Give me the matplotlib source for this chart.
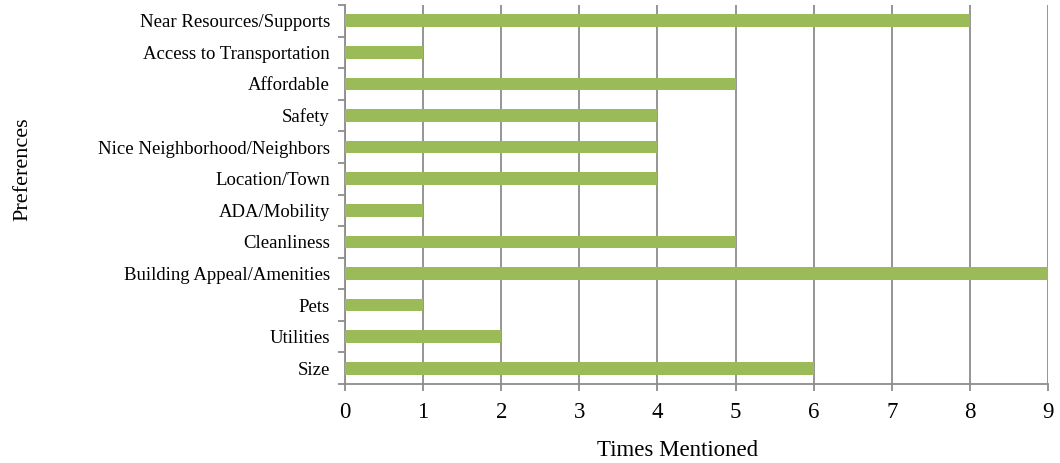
import matplotlib
matplotlib.use('Agg')
import matplotlib.pyplot as plt
import numpy as np

plt.rcParams['font.family'] = ['Liberation Serif', 'DejaVu Serif']

categories = ['Size', 'Utilities', 'Pets', 'Building Appeal/Amenities', 'Cleanliness',
              'ADA/Mobility', 'Location/Town', 'Nice Neighborhood/Neighbors', 'Safety',
              'Affordable', 'Access to Transportation', 'Near Resources/Supports']
mentions = [6, 2, 1, 9, 5, 1, 4, 4, 4, 5, 1, 8]

grey = '#8c8c8c'
green = '#9bbb59'

fig = plt.figure(figsize=(10.6, 4.63), dpi=100)
ax = fig.add_axes([0.3255, 0.1706, 0.6632, 0.8186])

y = np.arange(len(categories))
ax.barh(y, mentions, height=0.4, color=green, zorder=3)

ax.set_xlim(0, 9)
ax.set_ylim(-0.5, len(categories) - 0.5)
ax.set_xticks(range(10))
ax.set_yticks(y)
ax.set_yticklabels(categories)
# category boundary ticks on the left spine
ax.set_yticks(np.arange(-0.5, len(categories)), minor=True)
ax.tick_params(axis='y', which='major', length=0, pad=11, labelsize=13.5)
ax.tick_params(axis='y', which='minor', length=5, width=1.3, color=grey)
ax.tick_params(axis='x', length=5, width=1.3, color=grey, labelsize=16.5, pad=8)

ax.grid(axis='x', color=grey, linewidth=1.3, zorder=0)
ax.set_axisbelow(True)
for side in ('top', 'right'):
    ax.spines[side].set_visible(False)
for side in ('left', 'bottom'):
    ax.spines[side].set_color(grey)
    ax.spines[side].set_linewidth(1.3)

fig.text(678 / 1060, 1 - 451 / 463, 'Times Mentioned', fontsize=16.5, ha='center', va='center')
fig.text(23 / 1060, 1 - 169 / 463, 'Preferences', rotation=90, fontsize=16, va='center', ha='center')

fig.savefig('out.png', dpi=100)
